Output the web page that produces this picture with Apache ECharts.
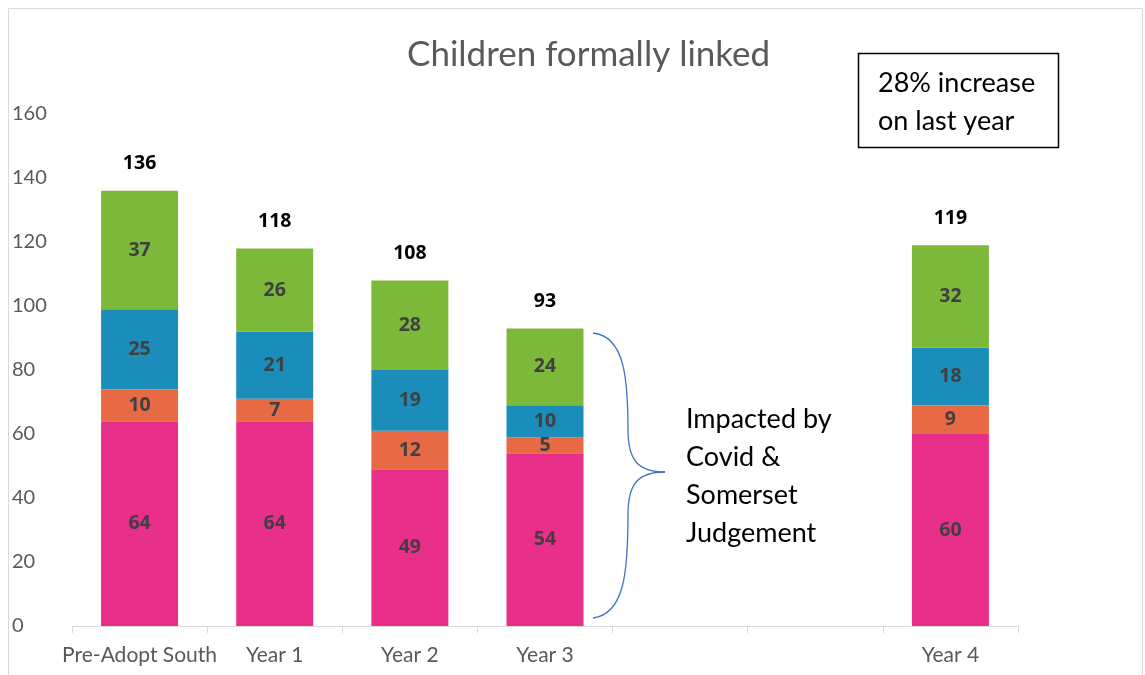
<!DOCTYPE html>
<html><head><meta charset="utf-8">
<script src="https://cdn.jsdelivr.net/npm/echarts@6/dist/echarts.min.js"></script>
<style>html,body{margin:0;padding:0;background:#fff}#c{width:1145px;height:675px}</style>
</head><body><div id="c"></div>
<script>
var categories = ['Pre-Adopt South', 'Year 1', 'Year 2', 'Year 3', '', '', 'Year 4'];
var pinkVals   = [64, 64, 49, 54, null, null, 60];
var orangeVals = [10, 7, 12, 5, null, null, 9];
var blueVals   = [25, 21, 19, 10, null, null, 18];
var greenVals  = [37, 26, 28, 24, null, null, 32];
var totals     = [136, 118, 108, 93, null, null, 119];
var yTicks = { min: 0, max: 160, interval: 20 };

var FONT = 'Lato, "Open Sans", sans-serif';
var NUMFONT = '"Open Sans", Lato, sans-serif';
var segLabel = { show: true, position: 'inside', color: '#404040', fontWeight: 'bold', fontSize: 19.5, fontFamily: NUMFONT };
function seg(name, data, color) {
  return { name: name, type: 'bar', stack: 's', data: data, barWidth: 77,
    itemStyle: { color: color }, label: segLabel, emphasis: { disabled: true } };
}
var braceStyle = { fill: 'none', stroke: '#4472C4', lineWidth: 1.3 };
function curve(x1, y1, c1x, c1y, c2x, c2y, x2, y2) {
  return { type: 'bezierCurve', shape: { x1: x1, y1: y1, cpx1: c1x, cpy1: c1y, cpx2: c2x, cpy2: c2y, x2: x2, y2: y2 }, style: braceStyle };
}
var chart = echarts.init(document.getElementById('c'), null, { renderer: 'canvas' });
chart.setOption({
  animation: false,
  title: { text: 'Children formally linked', left: 402, top: 32,
    textStyle: { fontSize: 35, fontWeight: 'normal', color: '#595959', fontFamily: FONT } },
  grid: { left: 72, right: 127, top: 114, bottom: 49 },
  xAxis: { type: 'category', data: categories,
    axisLine: { lineStyle: { color: '#D9D9D9', width: 1 } },
    axisTick: { show: true, length: 7, lineStyle: { color: '#D9D9D9' } },
    axisLabel: { color: '#595959', fontSize: 21, fontFamily: FONT, margin: 19, interval: 0 } },
  yAxis: { type: 'value', min: yTicks.min, max: yTicks.max, interval: yTicks.interval,
    splitLine: { show: false }, axisLine: { show: false }, axisTick: { show: false },
    axisLabel: { color: '#595959', fontSize: 20, fontFamily: FONT, align: 'left', margin: 60 } },
  series: [
    seg('Pink', pinkVals, '#E8308A'),
    seg('Orange', orangeVals, '#E86A45'),
    seg('Blue', blueVals, '#1B8DBB'),
    seg('Green', greenVals, '#7CB83A'),
    { name: 'Total', type: 'bar', data: totals, barWidth: 77, barGap: '-100%', z: 0,
      itemStyle: { color: 'rgba(0,0,0,0)' }, silent: true,
      label: { show: true, position: 'top', distance: 17, color: '#000', fontWeight: 'bold', fontSize: 19.5, fontFamily: NUMFONT } }
  ],
  graphic: [
    { type: 'rect', shape: { x: 8.5, y: 8.5, width: 1134, height: 680 }, style: { fill: 'none', stroke: '#D9D9D9', lineWidth: 1 }, z: -10 },
    { type: 'rect', shape: { x: 858.5, y: 53.5, width: 200, height: 94 }, style: { fill: '#fff', stroke: '#000', lineWidth: 1.5 } },
    { type: 'text', x: 878, y: 64, style: { text: '28% increase\non last year', fontSize: 27, lineHeight: 38, fill: '#000', fontFamily: FONT } },
    curve(593, 333, 625, 336, 628, 380, 628, 430),
    curve(628, 430, 628, 460, 638, 472, 665, 472),
    curve(665, 472, 638, 472, 628, 484, 628, 514),
    curve(628, 514, 628, 570, 625, 614, 593, 618),
    { type: 'text', x: 686, y: 400, style: { text: 'Impacted by\nCovid &\nSomerset\nJudgement', fontSize: 27, lineHeight: 38, fill: '#000', fontFamily: FONT } }
  ]
});
</script></body></html>
